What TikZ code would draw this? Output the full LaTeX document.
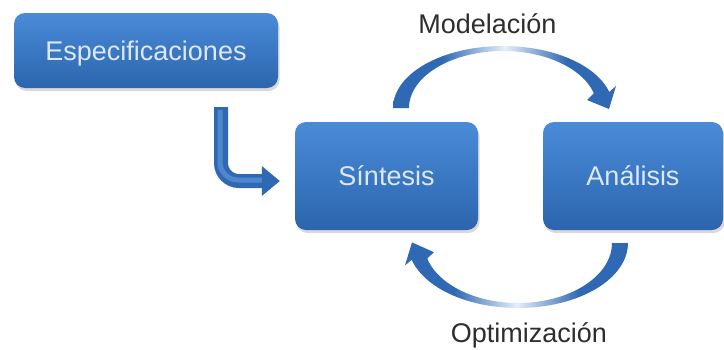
\documentclass[tikz,border=0pt]{standalone}
\usepackage{fontspec}
\setmainfont{Liberation Sans}
\usetikzlibrary{shadows,calc}

\definecolor{boxtop}{HTML}{4A8BD8}
\definecolor{boxbot}{HTML}{2C65AE}
\definecolor{boxtext}{HTML}{DCE8F6}
\definecolor{arcblue}{HTML}{2F69B4}
\definecolor{arclight}{HTML}{E6EEF8}
\definecolor{tubelight}{HTML}{4F87CC}
\definecolor{labeltext}{HTML}{2E2E2E}

% curved arrows: solid blue at the ends, fading to pale in the middle
\pgfdeclarehorizontalshading{arcfade}{100bp}{color(0bp)=(arcblue); color(25bp)=(arcblue); color(36bp)=(arcblue); color(50bp)=(arclight); color(64bp)=(arcblue); color(75bp)=(arcblue); color(100bp)=(arcblue)}

\tikzset{
  stagebox/.style={rounded corners=11pt, top color=boxtop, bottom color=boxbot,
    text=boxtext, font=\fontsize{27}{32}\selectfont, text height=19pt, text depth=0pt,
    inner sep=0pt, drop shadow={shadow xshift=1.5pt, shadow yshift=-3pt, opacity=0.3}},
  steplabel/.style={text=labeltext, font=\fontsize{27}{32}\selectfont, inner sep=0pt, anchor=base},
  cyclearrow/.style={shading=arcfade},
  tube/.style={line width=14pt, arcblue, rounded corners=18pt},
  tubeshine/.style={line width=5pt, tubelight, rounded corners=18pt},
}

\begin{document}
\begin{tikzpicture}[x=1pt, y=-1pt]
  \useasboundingbox (0,0) rectangle (724,349);

  % stages
  \node[stagebox, minimum width=264pt, minimum height=75pt] (esp) at (146,50.5) {Especificaciones};
  \node[stagebox, minimum width=183pt, minimum height=108pt] (sin) at (386.5,176) {Síntesis};
  \node[stagebox, minimum width=180pt, minimum height=108pt] (ana) at (633,176) {Análisis};

  % labels of the cycle
  \node[steplabel] (mod) at (487.5,33) {Modelación};
  \node[steplabel] (opt) at (529,342) {Optimización};

  % Especificaciones -> Síntesis
  \coordinate (lstart) at ($(esp.south)+(75,19)$);
  \coordinate (lend) at ($(sin.west)+(-32,5)$);
  \coordinate (ltip) at ($(sin.west)+(-15,5)$);
  \draw[tube] (lstart) |- (lend);
  \draw[tubeshine] ($(lstart)+(-1,3)$) |- ($(lend)+(0,-1)$);
  \fill[arcblue] ($(lend)+(-1,-15)$) -- (ltip) -- ($(lend)+(-1,15)$) -- cycle;

  % Síntesis -> Análisis (over the top)
  \shade[cyclearrow]
    plot[domain=180:15, samples=60] ({503+110*cos(\x)},{108-62*sin(\x)})
    -- (616,86) -- (609,109) -- (587,100)
    -- plot[domain=15:180, samples=60] ({503+94*cos(\x)},{108-57*sin(\x)}) -- cycle;

  % Análisis -> Síntesis (underneath)
  \shade[cyclearrow]
    plot[domain=0:165, samples=60] ({518+110*cos(\x)},{243+65*sin(\x)})
    -- (405,265.4) -- (412,242.4) -- (434,252.2)
    -- plot[domain=165:0, samples=60] ({518+94*cos(\x)},{243+60*sin(\x)}) -- cycle;
\end{tikzpicture}
\end{document}
